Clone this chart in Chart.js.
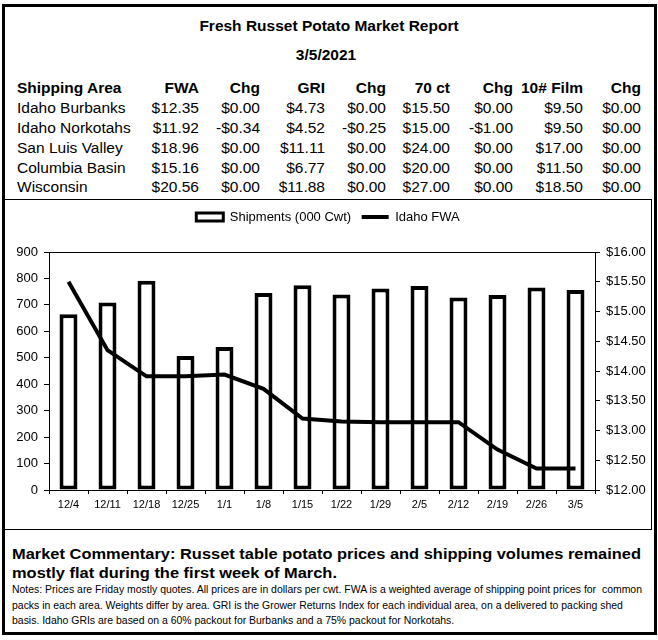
<!DOCTYPE html>
<html>
<head>
<meta charset="utf-8">
<script src="https://cdn.jsdelivr.net/npm/chart.js@4"></script>
<style>
  body { margin: 0; background: #fff; font-family: 'Liberation Sans', Arial, sans-serif; color: #000; }
  #frame { position: absolute; left: 2px; top: 4px; width: 655px; height: 631px; border: 3px solid #000; box-sizing: border-box; }
  .t { position: absolute; white-space: nowrap; font-size: 15.5px; line-height: 18px; }
  .b { font-weight: bold; }
  #chartBox { position: absolute; left: 4px; top: 199px; width: 648px; height: 331px; border: 1px solid #000; box-sizing: border-box; }
  #chartWrap { position: relative; width: 646px; height: 329px; }
  .para { position: absolute; left: 12px; transform-origin: left top; }
  .para div { white-space: nowrap; }
  .para span { display: inline-block; }
  #comment { top: 544px; font-size: 15.5px; font-weight: bold; line-height: 19px; }
  #notes { top: 582px; font-size: 11px; line-height: 15.5px; }
</style>
</head>
<body>
<div id="frame"></div>
<div id="table"></div>
<div id="chartBox"><div id="chartWrap"><canvas id="chart"></canvas></div></div>
<div class="para" id="comment">
  <div><span>Market Commentary: Russet table potato prices and shipping volumes remained</span></div>
  <div><span>mostly flat during the first week of March.</span></div>
</div>
<div class="para" id="notes">
  <div><span>Notes: Prices are Friday mostly quotes. All prices are in dollars per cwt. FWA is a weighted average of shipping point prices for &nbsp;common</span></div>
  <div><span>packs in each area. Weights differ by area. GRI is the Grower Returns Index for each individual area, on a delivered to packing shed</span></div>
  <div><span>basis. Idaho GRIs are based on a 60% packout for Burbanks and a 75% packout for Norkotahs.</span></div>
</div>
<script>
// report table
const reportTitle = 'Fresh Russet Potato Market Report';
const reportDate = '3/5/2021';
const headers = ['Shipping Area', 'FWA', 'Chg', 'GRI', 'Chg', '70 ct', 'Chg', '10# Film', 'Chg'];
const areas = ['Idaho Burbanks', 'Idaho Norkotahs', 'San Luis Valley', 'Columbia Basin', 'Wisconsin'];
const fwa = ['$12.35', '$11.92', '$18.96', '$15.16', '$20.56'];
const fwaChg = ['$0.00', '-$0.34', '$0.00', '$0.00', '$0.00'];
const gri = ['$4.73', '$4.52', '$11.11', '$6.77', '$11.88'];
const griChg = ['$0.00', '-$0.25', '$0.00', '$0.00', '$0.00'];
const ct70 = ['$15.50', '$15.00', '$24.00', '$20.00', '$27.00'];
const ct70Chg = ['$0.00', '-$1.00', '$0.00', '$0.00', '$0.00'];
const film10 = ['$9.50', '$9.50', '$17.00', '$11.50', '$18.50'];
const film10Chg = ['$0.00', '$0.00', '$0.00', '$0.00', '$0.00'];

// chart data
const weeks = ['12/4', '12/11', '12/18', '12/25', '1/1', '1/8', '1/15', '1/22', '1/29', '2/5', '2/12', '2/19', '2/26', '3/5'];
const shipments = [665, 709, 791, 507, 541, 745, 774, 739, 762, 771, 728, 737, 766, 756];
const idahoFwa = [15.50, 14.35, 13.91, 13.91, 13.94, 13.70, 13.20, 13.15, 13.14, 13.14, 13.14, 12.68, 12.36, 12.36];

function addText(text, css, bold) {
    const el = document.createElement('div');
    el.className = 't' + (bold ? ' b' : '');
    el.textContent = text;
    Object.assign(el.style, css);
    document.getElementById('table').appendChild(el);
    return el;
}

function buildTable() {
    addText(reportTitle, {left: '0px', width: '658px', textAlign: 'center', top: '17px'}, true);
    addText(reportDate, {left: '0px', width: '652px', textAlign: 'center', top: '46px'}, true);

    const cols = [fwa, fwaChg, gri, griChg, ct70, ct70Chg, film10, film10Chg];
    const rightEdges = [199, 260, 325, 386, 450, 513, 583, 641];
    const rowTop = [79, 99, 119, 139, 159, 178];

    addText(headers[0], {left: '17px', top: rowTop[0] + 'px'}, true);
    headers.slice(1).forEach((h, i) => {
        addText(h, {right: (658 - rightEdges[i]) + 'px', top: rowTop[0] + 'px'}, true);
    });
    areas.forEach((a, r) => {
        addText(a, {left: '17px', top: rowTop[r + 1] + 'px'});
        cols.forEach((col, i) => {
            addText(col[r], {right: (658 - rightEdges[i]) + 'px', top: rowTop[r + 1] + 'px'});
        });
    });
}

// squeeze a paragraph so its first line spans the same width as in the report
function fitPara(id, target) {
    const para = document.getElementById(id);
    const w = para.querySelector('span').getBoundingClientRect().width;
    para.style.transform = 'scaleX(' + (target / w) + ')';
}

// legend sits higher than Chart.js puts it, so give the legend box extra height
const legendGap = {
    id: 'legendGap',
    beforeInit(chart) {
        const fit = chart.legend.fit;
        chart.legend.fit = function () {
            fit.bind(chart.legend)();
            this.height = 52;
        };
    }
};

// top edge of the plot box
const plotTop = {
    id: 'plotTop',
    afterDraw(chart) {
        const {ctx, chartArea} = chart;
        const y = Math.round(chartArea.top) + 0.5;
        ctx.save();
        ctx.strokeStyle = '#000';
        ctx.lineWidth = 1;
        ctx.beginPath();
        ctx.moveTo(chartArea.left, y);
        ctx.lineTo(chartArea.right, y);
        ctx.stroke();
        ctx.restore();
    }
};

function initChart() {
    Chart.defaults.font.family = "'Liberation Sans', Arial, sans-serif";
    Chart.defaults.color = '#000';

    const ctx = document.getElementById('chart').getContext('2d');
    new Chart(ctx, {
        type: 'bar',
        data: {
            labels: weeks,
            datasets: [
                {
                    label: 'Shipments (000 Cwt)',
                    data: shipments,
                    backgroundColor: '#fff',
                    borderColor: '#000',
                    borderWidth: 4,
                    borderSkipped: false,
                    barPercentage: 0.46,
                    categoryPercentage: 1,
                    yAxisID: 'y',
                    order: 2
                },
                {
                    type: 'line',
                    label: 'Idaho FWA',
                    data: idahoFwa,
                    borderColor: '#000',
                    backgroundColor: '#000',
                    borderWidth: 4,
                    pointRadius: 0,
                    tension: 0,
                    yAxisID: 'y1',
                    order: 1
                }
            ]
        },
        options: {
            responsive: true,
            maintainAspectRatio: false,
            animation: false,
            layout: {padding: 0},
            plugins: {
                tooltip: {enabled: false},
                legend: {
                    position: 'top',
                    labels: {
                        usePointStyle: true,
                        pointStyleWidth: 27,
                        boxHeight: 8,
                        padding: 10.5,
                        color: '#000',
                        font: {size: 13},
                        generateLabels(chart) {
                            const items = Chart.defaults.plugins.legend.labels.generateLabels(chart);
                            // keep dataset order (bars first) rather than draw order
                            items.sort((a, b) => a.datasetIndex - b.datasetIndex);
                            items.forEach((it) => {
                                if (it.datasetIndex === 0) {
                                    it.pointStyle = 'rect';
                                    it.fillStyle = '#fff';
                                    it.lineWidth = 3;
                                } else {
                                    it.pointStyle = 'line';
                                    it.lineWidth = 4;
                                }
                            });
                            return items;
                        }
                    }
                }
            },
            scales: {
                x: {
                    offset: true,
                    grid: {display: true, drawOnChartArea: false, offset: true, tickLength: 4, color: '#000'},
                    border: {color: '#000'},
                    ticks: {font: {size: 11}, color: '#000', maxRotation: 0, autoSkip: false, padding: 4},
                    afterFit(scale) { scale.height = 39; }
                },
                y: {
                    position: 'left',
                    min: 0,
                    max: 900,
                    grid: {drawOnChartArea: false, tickLength: 5, color: '#000'},
                    border: {color: '#000'},
                    ticks: {stepSize: 100, font: {size: 13}, color: '#000', padding: 6},
                    afterFit(scale) { scale.width = 44; }
                },
                y1: {
                    position: 'right',
                    min: 12,
                    max: 16,
                    grid: {drawOnChartArea: false, tickLength: 5, color: '#000'},
                    border: {color: '#000'},
                    ticks: {
                        stepSize: 0.5,
                        font: {size: 13},
                        color: '#000',
                        padding: 6,
                        callback: (v) => '$' + Number(v).toFixed(2)
                    },
                    afterFit(scale) { scale.width = 56; }
                }
            }
        },
        plugins: [legendGap, plotTop]
    });
}

document.addEventListener('DOMContentLoaded', () => {
    buildTable();
    fitPara('comment', 629);
    fitPara('notes', 630);
    initChart();
});
</script>
</body>
</html>
